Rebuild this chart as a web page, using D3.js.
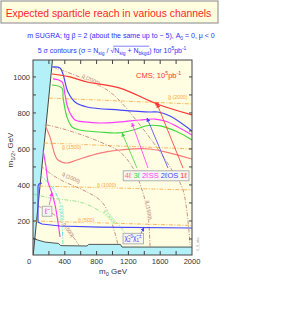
<!DOCTYPE html>
<html>
<head>
<meta charset="utf-8">
<script src="https://cdn.jsdelivr.net/npm/d3@7"></script>
<style>
  body { margin: 0; background: #fff; }
  svg { display: block; font-family: "Liberation Sans", Arial, sans-serif; }
</style>
</head>
<body>
<div id="chart"></div>
<script>
// tick labels
var m0Ticks = [0, 400, 800, 1200, 1600, 2000];
var m12Ticks = [200, 400, 600, 800, 1000];

// excluded regions, [m0, m1/2] in GeV
var noEwsbEdge = [[0, 0], [245, 1094]];
var lepEdge = [[0, 105], [60, 94], [150, 83], [320, 75], [350, 63], [680, 61], [700, 70], [1100, 70], [1120, 55], [2000, 55]];

// 5 sigma reach contours
var reach1l = [[239, 1016], [465, 1000], [679, 972], [1094, 938], [1560, 850], [2000, 789]];
var reach2lOS = [[239, 1055], [340, 1050], [377, 1016], [440, 916], [528, 861], [679, 833], [1094, 816], [1472, 805], [1572, 805], [1723, 783], [2000, 700]];
var reach2lSS = [[252, 989], [365, 972], [403, 900], [428, 844], [465, 800], [528, 761], [654, 750], [843, 744], [1094, 750], [1346, 761], [1535, 766], [1660, 755], [1824, 722], [2000, 677]];
var reach3l = [[239, 955], [365, 938], [380, 880], [428, 777], [491, 722], [591, 705], [843, 694], [1069, 689], [1258, 705], [1450, 730], [1600, 728], [1800, 698], [2000, 650]];
var reach4l = [[151, 733], [214, 666], [277, 566], [314, 539], [428, 522], [553, 539], [843, 577], [1258, 600], [1472, 600], [1723, 577], [2000, 544]];
var reachSlepton = [[126, 594], [164, 500], [189, 416], [239, 355], [277, 289], [314, 194], [340, 111]];
var reachChi = [[113, 411], [75, 405], [63, 394], [63, 194], [113, 183], [340, 172], [843, 166], [2000, 161]];

// iso-mass lines
var gluino2000 = [[200, 883], [2000, 850]];
var gluino1500 = [[140, 633], [2000, 600]];
var gluino1000 = [[80, 394], [2000, 372]];
var gluino500 = [[0, 200], [2000, 175]];
var squark2000 = [[252, 1055], [616, 994], [969, 916], [1346, 733], [1748, 483], [1887, 372], [1975, 67]];
var squark1500 = [[176, 733], [428, 705], [843, 639], [1094, 583], [1258, 494], [1384, 355], [1447, 233], [1472, 55]];
var squark1000 = [[101, 505], [302, 439], [679, 361], [843, 316], [931, 261], [1031, 133], [1069, 67]];
var squark500 = [[60, 283], [200, 255], [300, 222], [400, 170], [500, 115], [580, 65]];
var slepton300 = [[88, 456], [239, 389], [315, 328], [340, 300], [365, 189], [377, 67]];
var chargino300 = [[0, 350], [50, 344], [214, 328], [629, 300], [881, 244], [1057, 189], [1157, 133], [1200, 90]];

// colours
var cRed = "#ff3333", cSalmon = "#f47a7a", cGreen = "#3fd83f", cMag = "#ff3cff", cBlue = "#4646ff";
var cOrange = "#ffa53c", cBrown = "#b97a6e", cCyan = "#3fd9e0", cLime = "#7ee07e";

var margin = {top: 60, left: 33},
    width = 159,
    height = 195;

var svg = d3.select("#chart").append("svg")
    .attr("width", 291).attr("height", 329);
var defs = svg.append("defs");

// rich text: parts with sub / sup
function rich(sel, parts, fs) {
  var shift = 0;
  parts.forEach(function(p) {
    var target = p.sub ? fs * 0.3 : (p.sup ? -fs * 0.4 : 0);
    var ts = sel.append("tspan").text(p.t);
    if (target - shift !== 0) ts.attr("dy", target - shift);
    if (p.sub || p.sup) ts.style("font-size", (fs * 0.7) + "px");
    if (p.fill) ts.attr("fill", p.fill);
    shift = target;
  });
  return sel;
}

// title box
svg.append("rect").attr("x", 1).attr("y", 1).attr("width", 217).attr("height", 22)
   .attr("fill", "#ffffe0").attr("stroke", "#999").attr("stroke-width", 1.2);
svg.append("text").attr("x", 108.5).attr("y", 16.5).attr("text-anchor", "middle")
   .attr("fill", "#ff2424").style("font-size", "10.4px")
   .text("Expected sparticle reach in various channels");

// subtitle
rich(svg.append("text").attr("x", 121).attr("y", 37.5).attr("text-anchor", "middle")
   .attr("fill", "#2e2eff").style("font-size", "7px"),
   [{t: "m SUGRA; tg \u03b2 = 2 (about the same up to ~ 5), A"}, {t: "0", sub: 1}, {t: " = 0, \u03bc < 0"}], 7);

var sub2 = rich(svg.append("text").attr("x", 112).attr("y", 52.5).attr("text-anchor", "middle")
   .attr("fill", "#2e2eff").style("font-size", "7px"),
   [{t: "5 \u03c3 contours (\u03c3 = N"}, {t: "sig", sub: 1}, {t: " / \u221a"}, {t: "N"}, {t: "sig", sub: 1},
    {t: " + N"}, {t: "bkgd", sub: 1}, {t: ") for 10"}, {t: "5", sup: 1}, {t: "pb"}, {t: "-1", sup: 1}], 7);
// overline of the square root
(function() {
  var node = sub2.node();
  var str = node.textContent;
  var i0 = str.indexOf("\u221a");
  var i1 = str.indexOf("bkgd") + 3;
  var a = node.getStartPositionOfChar(i0 + 1), b = node.getEndPositionOfChar(i1);
  svg.append("line").attr("x1", a.x - 1).attr("x2", b.x).attr("y1", 52.5 - 6.3).attr("y2", 52.5 - 6.3)
     .attr("stroke", "#2e2eff").attr("stroke-width", 0.6);
})();

var g = svg.append("g").attr("transform", "translate(" + margin.left + "," + margin.top + ")");

defs.append("clipPath").attr("id", "plotclip")
    .append("rect").attr("width", width).attr("height", height);

var x = d3.scaleLinear().domain([0, 2000]).range([0, width]);
var y = d3.scaleLinear().domain([11, 1094]).range([height, 0]);

var smooth = d3.line().x(function(d) { return x(d[0]); }).y(function(d) { return y(d[1]); })
    .curve(d3.curveCatmullRom.alpha(0.5));
var straight = d3.line().x(function(d) { return x(d[0]); }).y(function(d) { return y(d[1]); });

var plot = g.append("g").attr("clip-path", "url(#plotclip)");

// background
plot.append("rect").attr("width", width).attr("height", height).attr("fill", "#fffde2");

// excluded regions
plot.append("path").attr("d", straight([[0, -50]].concat(noEwsbEdge, [[0, 1200]])) + "Z")
    .attr("fill", "#b3f0f7");
plot.append("path").attr("d", straight(lepEdge.concat([[2000, -50], [0, -50]])) + "Z")
    .attr("fill", "#b3f0f7");
plot.append("path").attr("d", straight(noEwsbEdge)).attr("fill", "none")
    .attr("stroke", "#333").attr("stroke-width", 0.9);
plot.append("path").attr("d", straight(lepEdge)).attr("fill", "none")
    .attr("stroke", "#444").attr("stroke-width", 0.9);

// iso-mass lines (dash-dot)
function isoLine(pts, color, curve) {
  plot.append("path").attr("d", (curve ? smooth : straight)(pts)).attr("fill", "none")
      .attr("stroke", color).attr("stroke-width", 0.8)
      .attr("stroke-dasharray", "4,1.5,1,1.5");
}
isoLine(gluino2000, cOrange);
isoLine(gluino1500, cOrange);
isoLine(gluino1000, cOrange);
isoLine(gluino500, cOrange);
isoLine(squark2000, cBrown, 1);
isoLine(squark1500, cBrown, 1);
isoLine(squark1000, cBrown, 1);
isoLine(squark500, cBrown, 1);
isoLine(slepton300, cCyan, 1);
isoLine(chargino300, cLime, 1);

function isoLabel(txt, m0, m12, rot, color, anchor) {
  plot.append("text")
      .attr("transform", "translate(" + x(m0) + "," + y(m12) + ") rotate(" + rot + ")")
      .attr("text-anchor", anchor || "middle").attr("dy", "0.35em")
      .attr("fill", color).style("font-size", "5.2px")
      .attr("stroke", "#fffde2").attr("stroke-width", 1.6).style("paint-order", "stroke")
      .text(txt);
}
isoLabel("g\u0303 (2000)", 1700, 885, 0, cOrange, "start");
isoLabel("g\u0303 (1500)", 365, 610, 0, cOrange, "start");
isoLabel("g\u0303 (1000)", 805, 400, 0, cOrange, "start");
isoLabel("g\u0303 (500)", 566, 205, 0, cOrange, "start");
isoLabel("q\u0303 (2000)", 730, 985, 25, cBrown);
isoLabel("q\u0303 (1000)", 480, 440, 25, cBrown);
isoLabel("q\u0303 (500)", 445, 150, 55, cBrown);
isoLabel("q\u0303 (1500)", 1455, 260, 82, cBrown);
isoLabel("\u2113\u0303 (300)", 360, 245, 85, cCyan);
isoLabel("\u03c7\u0303 (300)", 960, 225, 50, cLime);

// reach contours
function reach(pts, color, curve) {
  plot.append("path").attr("d", (curve ? smooth : straight)(pts)).attr("fill", "none")
      .attr("stroke", color).attr("stroke-width", 1.15);
}
reach(reach4l, cSalmon, 1);
reach(reach3l, cGreen, 1);
reach(reach2lSS, cMag, 1);
reach(reach2lOS, cBlue, 1);
reach(reach1l, cRed, 1);
reach(reachSlepton, cMag, 1);
reach(reachChi, cBlue, 0);

// pointers from labels to curves
function marker(color) {
  var id = "arr" + color.slice(1);
  defs.append("marker").attr("id", id).attr("viewBox", "0 0 6 6")
      .attr("refX", 5.5).attr("refY", 3).attr("markerWidth", 4).attr("markerHeight", 4)
      .attr("markerUnits", "userSpaceOnUse").attr("orient", "auto-start-reverse")
      .append("path").attr("d", "M0,0L6,3L0,6Z").attr("fill", color);
  return "url(#" + id + ")";
}
function pointer(pts, color) {
  plot.append("path").attr("d", straight(pts)).attr("fill", "none")
      .attr("stroke", color).attr("stroke-width", 0.8)
      .attr("marker-start", marker(color));
}
pointer([[1120, 689], [1308, 494]], cGreen);
pointer([[1245, 744], [1447, 494]], cMag);
pointer([[1434, 772], [1698, 494]], cBlue);
pointer([[1560, 850], [1887, 494]], cRed);
pointer([[239, 358], [205, 289]], cMag);
pointer([[1396, 163], [1333, 111]], cBlue);
plot.append("rect").attr("x", x(1560) - 1.6).attr("y", y(850) - 1.6)
    .attr("width", 3.2).attr("height", 3.2).attr("fill", cRed);

// boxed labels
function boxLabel(parts, m0, m12, fs) {
  var grp = plot.append("g");
  var rect = grp.append("rect");
  var t = rich(grp.append("text").attr("x", x(m0)).attr("y", y(m12))
      .attr("text-anchor", "middle").style("font-size", fs + "px"), parts, fs);
  var bb = t.node().getBBox();
  rect.attr("x", bb.x - 1.5).attr("y", bb.y - 0.5).attr("width", bb.width + 3).attr("height", bb.height + 1)
      .attr("fill", "#f6f6f0").attr("stroke", "#aaa").attr("stroke-width", 0.9);
}
boxLabel([{t: "4\u2113 ", fill: cSalmon}, {t: "3\u2113 ", fill: cGreen}, {t: "2\u2113SS ", fill: cMag},
          {t: "2\u2113OS ", fill: cBlue}, {t: "1\u2113", fill: cRed}], 1545, 437, 7.5);
boxLabel([{t: "\u03c7\u0303", fill: cBlue}, {t: "2", sub: 1, fill: cBlue}, {t: "0", sup: 1, fill: cBlue},
          {t: "\u03c7\u0303", fill: cBlue}, {t: "1", sub: 1, fill: cBlue}, {t: "\u00b1", sup: 1, fill: cBlue}], 1258, 92, 6.5);
boxLabel([{t: "\u2113\u0303", fill: cMag}], 164, 240, 8);

// experiment label
rich(plot.append("text").attr("x", x(1296)).attr("y", y(995)).attr("fill", cRed).style("font-size", "7.5px"),
     [{t: "CMS; 10"}, {t: "5", sup: 1}, {t: "pb"}, {t: "-1", sup: 1}], 7.5);

// frame and inward ticks
g.append("rect").attr("width", width).attr("height", height).attr("fill", "none")
 .attr("stroke", "#444").attr("stroke-width", 1);
var yMinor = d3.range(100, 1100, 100);
var xMinor = d3.range(200, 2000, 200);
g.selectAll(".ytl").data(yMinor).enter().append("line")
 .attr("x1", 0).attr("x2", 3).attr("y1", function(d) { return y(d); }).attr("y2", function(d) { return y(d); })
 .attr("stroke", "#444");
g.selectAll(".ytr").data(yMinor).enter().append("line")
 .attr("x1", width).attr("x2", width - 3).attr("y1", function(d) { return y(d); }).attr("y2", function(d) { return y(d); })
 .attr("stroke", "#444");
g.selectAll(".xtb").data(xMinor).enter().append("line")
 .attr("y1", height).attr("y2", height - 4).attr("x1", function(d) { return x(d); }).attr("x2", function(d) { return x(d); })
 .attr("stroke", "#444");
g.selectAll(".xtt").data(xMinor).enter().append("line")
 .attr("y1", 0).attr("y2", 4).attr("x1", function(d) { return x(d); }).attr("x2", function(d) { return x(d); })
 .attr("stroke", "#444");

// tick labels
g.selectAll(".ylab").data(m12Ticks).enter().append("text")
 .attr("x", -3).attr("y", function(d) { return y(d); }).attr("dy", "0.35em")
 .attr("text-anchor", "end").attr("fill", "#333").style("font-size", "7.5px")
 .text(function(d) { return d; });
g.selectAll(".xlab").data(m0Ticks).enter().append("text")
 .attr("x", function(d) { return x(d) - (d === 0 ? 4 : 0); }).attr("y", height + 9)
 .attr("text-anchor", "middle").attr("fill", "#333").style("font-size", "7.5px")
 .text(function(d) { return d; });

// axis titles
rich(g.append("text").attr("x", 80).attr("y", height + 19).attr("text-anchor", "middle")
 .attr("fill", "#333").style("font-size", "8px"), [{t: "m"}, {t: "0", sub: 1}, {t: " GeV"}], 8);
rich(g.append("text").attr("transform", "translate(-20," + 90 + ") rotate(-90)").attr("text-anchor", "middle")
 .attr("fill", "#333").style("font-size", "8px"), [{t: "m"}, {t: "1/2", sub: 1}, {t: ", GeV"}], 8);

// plot id
svg.append("text").attr("transform", "translate(199,244) rotate(-90)").attr("text-anchor", "middle")
   .attr("fill", "#999").style("font-size", "3.5px").text("6_8_abs");
</script>
</body>
</html>
